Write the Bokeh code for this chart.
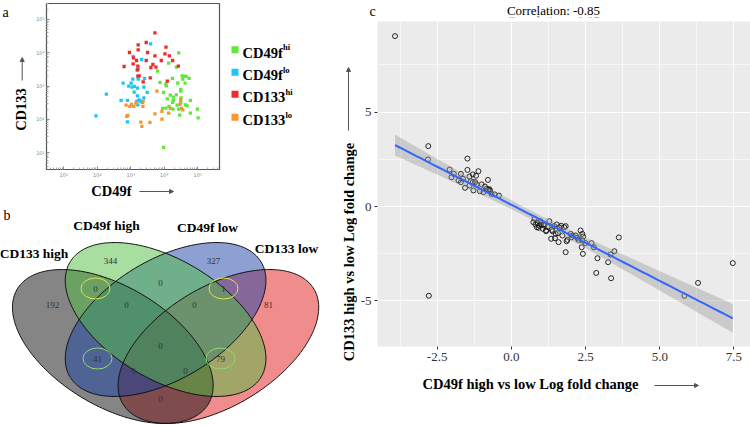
import numpy as np
from bokeh.plotting import figure
from bokeh.layouts import row, column
from bokeh.models import Range1d, Label, Arrow, NormalHead, FixedTicker, NumeralTickFormatter, BoxAnnotation
from bokeh.core.properties import value
from bokeh.embed import file_html
from bokeh.resources import INLINE

SERIF = "Liberation Serif"

# ---------------- Panel a data (log10 intensities) ----------------
hi49_x = [4.43, 4.13, 4.36, 3.80, 4.53, 4.59, 4.65, 4.55, 4.74, 4.24, 3.87, 4.05, 4.40, 4.62,
          4.06, 4.49, 4.49, 3.98, 4.18, 4.36, 4.27, 4.09, 4.78, 4.27, 4.50, 4.49, 4.25, 4.63,
          4.68, 4.38, 4.05, 4.26, 4.43, 3.95, 4.14, 4.99, 4.46, 4.78, 5.01, 3.98]
hi49_y = [4.00, 3.69, 3.57, 3.45, 3.31, 3.29, 3.29, 3.21, 3.23, 3.23, 3.11, 3.07, 3.09, 3.09,
          3.01, 2.90, 2.85, 2.81, 2.73, 2.74, 2.67, 2.62, 2.57, 2.57, 2.65, 2.51, 2.51, 2.44,
          2.41, 2.43, 2.34, 2.31, 2.31, 2.33, 2.39, 2.31, 2.13, 2.19, 2.05, 1.16]
lo49_x = [3.59, 3.07, 3.32, 3.22, 3.19, 3.06, 3.41, 3.22, 3.01, 2.77, 2.94, 3.11, 3.04, 3.20,
          3.39, 3.10, 2.27, 3.49, 3.20, 3.39, 2.71, 2.90, 3.25, 3.29, 3.34, 3.21, 1.96, 2.90, 3.18]
lo49_y = [4.27, 3.89, 3.80, 3.51, 3.49, 3.21, 3.23, 3.21, 3.09, 3.09, 3.00, 2.99, 2.97, 2.94,
          2.97, 2.82, 2.76, 2.81, 2.71, 2.65, 2.57, 2.57, 2.59, 2.55, 2.51, 2.44, 2.11, 1.93, 2.55]
hi133_x = [3.72, 3.46, 3.22, 4.05, 2.96, 3.50, 3.22, 4.15, 4.02, 4.25, 3.91, 3.72, 3.46, 3.17,
           3.08, 3.07, 3.66, 3.60, 3.21, 2.80, 3.75, 4.42, 3.20, 3.58, 3.21, 3.25, 4.09, 3.37]
hi133_y = [4.60, 4.31, 4.24, 4.17, 4.01, 4.01, 4.09, 3.91, 3.97, 3.77, 3.77, 3.91, 3.77, 3.77,
           3.85, 3.67, 3.65, 3.56, 3.60, 3.59, 3.57, 3.60, 3.49, 3.25, 3.30, 3.31, 3.15, 3.13]
lo133_x = [3.78, 2.86, 2.97, 3.15, 3.02, 3.37, 3.36, 3.09, 3.72, 3.93, 4.49, 4.47, 4.51, 4.55,
           4.18, 2.91, 2.88, 3.30, 3.33, 3.93, 4.13, 3.57]
lo133_y = [2.85, 2.43, 2.39, 2.49, 2.45, 2.55, 2.39, 2.39, 2.17, 2.24, 2.59, 2.45, 2.33, 2.29,
           2.33, 2.12, 2.09, 1.92, 1.79, 2.01, 2.19, 1.91]
pop_names = ["CD49f", "CD49f", "CD133", "CD133"]
pop_sups = ["hi", "lo", "hi", "lo"]
pop_colors = ["#5fe83a", "#1ec6f2", "#ee2b2b", "#f7962e"]
log_ticks = [1, 2, 3, 4, 5]
sup_digits = {1: "\u00b9", 2: "\u00b2", 3: "\u00b3", 4: "\u2074", 5: "\u2075"}

# ---------------- Panel b data ----------------
venn_sets = ["CD133 high", "CD49f high", "CD49f low", "CD133 low"]
venn_counts = [344, 327, 192, 81, 0, 0, 1, 0, 0, 0, 41, 79, 0, 0, 0]
venn_circled = [4, 6, 10, 11]

# ---------------- Panel c data ----------------
fc_x = [-3.92, -2.80, -2.81, -2.78, -2.08, -2.02, -1.94, -1.70, -1.78, -1.70, -1.56, -1.48,
        -1.48, -1.41, -1.37, -1.30, -1.19, -1.11, -1.41, -1.30, -1.17, -1.00, -0.79, -0.89,
        -0.74, -0.78, -0.72, -1.28, -1.06, -0.94, -0.67, -0.56, -0.42, -1.63, -1.22, -0.83,
        0.78, 0.74, 0.81, 0.89, 0.86, 0.94, 0.98, 1.06, 1.11, 1.28, 1.17, 1.36, 1.44, 1.53,
        1.61, 1.68, 1.78, 1.83, 1.49, 1.57, 1.72, 2.00, 2.06, 2.22, 2.33, 2.39, 2.42, 2.39,
        2.50, 2.70, 2.78, 3.47, 3.34, 3.26, 2.90, 2.86, 3.36, 3.62, 1.34, 1.47, 1.59, 1.86,
        1.89, 2.37, 2.41, 1.83, 1.39, 1.22, 1.08, 1.17, 2.03, 2.17, 2.26, 0.92, 1.00, 1.63,
        5.83, 6.29, 7.46]
fc_y = [9.03, 3.20, 2.49, -4.73, 1.96, 1.55, 1.73, 1.73, 1.38, 1.29, 0.99, 2.54,
        1.94, 1.59, 1.34, 1.70, 1.63, 1.87, 1.11, 1.29, 1.17, 1.17, 1.41, 1.06,
        0.92, 0.88, 0.85, 0.85, 0.81, 0.76, 0.67, 0.64, 0.58, 1.47, 1.29, 0.94,
        -0.65, -0.83, -0.95, -0.88, -1.10, -1.01, -0.78, -1.18, -1.01, -0.78, -1.27, -1.24, -1.04, -0.95,
        -1.10, -1.02, -1.10, -1.04, -1.45, -1.41, -1.54, -1.45, -1.54, -1.66, -1.27, -1.45, -1.59, -1.80,
        -1.94, -1.94, -2.16, -2.37, -2.54, -2.95, -2.74, -3.52, -3.80, -1.64, -1.71, -1.68, -1.89, -1.84,
        -1.77, -2.16, -2.51, -2.42, -1.31, -1.08, -0.95, -1.31, -1.63, -1.54, -1.77, -1.13, -0.95, -1.13,
        -4.73, -4.05, -3.00]
x_major = [-2.5, 0.0, 2.5, 5.0, 7.5]
x_minor = [-3.75, -1.25, 1.25, 3.75, 6.25]
y_major = [-5, 0, 5]
y_minor = [-2.5, 2.5, 7.5]
corr_text = "Correlation: -0.85"
x_title = "CD49f high vs low Log fold change"
y_title = "CD133 high vs low Log fold change"


def add_label(p, x, y, text, size, bold=False, angle=0.0, align="left", baseline="middle",
              color="black", font=SERIF):
    p.add_layout(Label(x=x, y=y, text=text, text_font=font, text_font_size=f"{size}px",
                       text_font_style="bold" if bold else "normal", angle=angle,
                       text_align=align, text_baseline=baseline, text_color=color))


def add_arrow(p, x0, y0, x1, y1):
    p.add_layout(Arrow(end=NormalHead(size=4, fill_color="#555555", line_color="#555555"),
                       x_start=x0, y_start=y0, x_end=x1, y_end=y1,
                       line_color="#555555", line_width=1))


def blank(w, h, x0, x1, y0, y1):
    # a figure whose data units equal page pixels (y grows downward)
    f = figure(width=w, height=h, x_range=Range1d(x0, x1), y_range=Range1d(y1, y0),
               output_backend="svg", toolbar_location=None, x_axis_location=None,
               y_axis_location=None, min_border=0)
    f.grid.visible = False
    f.outline_line_color = None
    return f


# ================= Panel a =================
def lx(X):
    return 1 + (X - 63.3) / 33.5


def ly(Y):
    return 1 + (152.3 - Y) / 33.33


pa = figure(width=191, height=182, x_axis_type="log", y_axis_type="log",
            x_range=Range1d(10 ** lx(46), 10 ** lx(219)), y_range=Range1d(10 ** ly(169), 10 ** ly(3)),
            output_backend="svg", toolbar_location=None,
            min_border_left=16, min_border_right=2, min_border_top=3, min_border_bottom=13)
pa.grid.visible = False
pa.outline_line_color = "#555555"
pa.outline_line_width = 1.2
tick_vals = [10.0 ** k for k in log_ticks]
minor_vals = [m * 10.0 ** k for k in range(0, 6) for m in range(2, 10)]
for ax in (pa.xaxis[0], pa.yaxis[0]):
    ax.ticker = FixedTicker(ticks=tick_vals, minor_ticks=minor_vals)
    ax.major_label_overrides = {10.0 ** k: "10" + sup_digits[k] for k in log_ticks}
    ax.axis_line_color = None
    ax.major_tick_in = 3
    ax.major_tick_out = 0
    ax.minor_tick_in = 2
    ax.minor_tick_out = 0
    ax.major_tick_line_color = "#888888"
    ax.minor_tick_line_color = "#aaaaaa"
    ax.major_label_text_font_size = "5px"
    ax.major_label_text_color = "#888888"
    ax.major_label_text_font = "DejaVu Sans"
    ax.major_label_standoff = 2

groups = [(hi49_x, hi49_y), (lo49_x, lo49_y), (hi133_x, hi133_y), (lo133_x, lo133_y)]
for (gx, gy), col in zip(groups, pop_colors):
    pa.scatter(10 ** np.array(gx), 10 ** np.array(gy), marker="square", size=3.3,
               fill_color=col, line_color=None)

# left strip of panel a: letter + y title
fa = blank(30, 182, 0, 30, 0, 182)
add_label(fa, 2, 12, "a", 14)
add_label(fa, 20, 109, "CD133", 14.5, bold=True, angle=np.pi / 2, align="center")
add_arrow(fa, 21.7, 80, 21.7, 57)

# legend strip of panel a
fl = blank(117, 182, 221, 338, 0, 182)
row_y = [49.3, 71.7, 93.7, 116.7]
sup_off = {"CD49f": 40.5, "CD133": 43.0}
fl.scatter(x=[234.5] * 4, y=row_y, marker="square", size=7, fill_color=pop_colors, line_color=None)
for name, sup, ry in zip(pop_names, pop_sups, row_y):
    add_label(fl, 242, ry + 3, name, 14.5, bold=True, baseline="alphabetic")
    add_label(fl, 242 + sup_off[name], ry - 2.6, sup, 8.5, bold=True, baseline="alphabetic")

# ================= Panel b (Venn) =================
def U(X):
    return (X + 10.9) / 352.0


def V(Y):
    return (472.9 - Y) / 270.0


pb = figure(width=338, height=244, x_range=Range1d(U(0), U(338)), y_range=Range1d(V(426), V(182)),
            output_backend="svg", toolbar_location=None, x_axis_location=None,
            y_axis_location=None, min_border=0)
pb.grid.visible = False
pb.outline_line_color = None

venn_cx = [0.35, 0.5, 0.5, 0.65]
venn_cy = [0.47, 0.57, 0.57, 0.47]
venn_rot = [-45, -45, 45, 45]
venn_fill = ["#0b0b0b", "#51bd41", "#1941a5", "#e11919"]
t = np.linspace(0, 2 * np.pi, 240)
ell = []
for i in range(4):
    th = np.radians(venn_rot[i])
    ex = venn_cx[i] + 0.35 * np.cos(t) * np.cos(th) - 0.2 * np.sin(t) * np.sin(th)
    ey = venn_cy[i] + 0.35 * np.cos(t) * np.sin(th) + 0.2 * np.sin(t) * np.cos(th)
    ell.append((ex, ey))
for i in [3, 0, 2, 1]:
    pb.patch(ell[i][0], ell[i][1], fill_color=venn_fill[i], fill_alpha=0.5, line_color=None)
for i in range(4):
    pb.patch(ell[i][0], ell[i][1], fill_color=None, line_color="#111111", line_width=1)

venn_pos = [(110, 260), (213, 260), (52, 304), (268, 304), (95, 288), (160, 282), (223, 288),
            (126, 304), (194, 304), (160, 345), (97, 358), (220, 358), (133, 370), (185, 370),
            (160, 398)]
circ_colors = ["#e2e24a", "#e2e24a", "#8cdc6e", "#8cdc6e"]
for k, cc in zip(venn_circled, circ_colors):
    X, Y = venn_pos[k]
    pb.ellipse(x=[U(X)], y=[V(Y)], width=29 / 352, height=21 / 270, fill_color=None,
               line_color=cc, line_width=1)
pb.text(x=[U(p[0]) for p in venn_pos], y=[V(p[1]) for p in venn_pos],
        text=[str(c) for c in venn_counts], text_font=value(SERIF),
        text_font_size=value("9px"), text_color="#333333", text_align="center",
        text_baseline="middle")

add_label(pb, U(3), V(215), "b", 14)
venn_lab_pos = [(33.5, 253), (106, 225), (207, 227), (286, 248)]
for name, (X, Y) in zip(venn_sets, venn_lab_pos):
    add_label(pb, U(X), V(Y), name, 13.5, bold=True, align="center")
# x title of panel a sits in this strip
add_label(pb, U(111), V(190), "CD49f", 14.5, bold=True, align="center")
add_arrow(pb, U(139), V(191), U(173), V(191))

# ================= Panel c =================
def cx(X):
    return (X - 508.3) / 30.0


def cy(Y):
    return (206.0 - Y) / 18.87


pc = figure(width=393, height=345, x_range=Range1d(cx(373), cx(750)), y_range=Range1d(cy(346), cy(21)),
            output_backend="svg", toolbar_location=None, background_fill_color="#EBEBEB",
            min_border_left=16, min_border_right=0, min_border_top=0, min_border_bottom=20)
pc.outline_line_color = None
pc.xaxis.ticker = FixedTicker(ticks=x_major, minor_ticks=x_minor)
pc.yaxis.ticker = FixedTicker(ticks=y_major, minor_ticks=y_minor)
pc.xgrid.ticker = FixedTicker(ticks=x_major, minor_ticks=x_minor)
pc.ygrid.ticker = FixedTicker(ticks=y_major, minor_ticks=y_minor)
for g in (pc.xgrid[0], pc.ygrid[0]):
    g.grid_line_color = "white"
    g.grid_line_width = 1.1
    g.minor_grid_line_color = "white"
    g.minor_grid_line_width = 0.6
pc.xaxis.formatter = NumeralTickFormatter(format="0.0")
pc.yaxis.major_label_overrides = {-5: "-5", 0: "0", 5: "5"}
for ax in (pc.xaxis[0], pc.yaxis[0]):
    ax.axis_line_color = None
    ax.major_tick_in = 0
    ax.major_tick_out = 3
    ax.major_tick_line_color = "#333333"
    ax.minor_tick_line_color = None
    ax.major_label_text_font = SERIF
    ax.major_label_text_font_size = "13px"
    ax.major_label_text_color = "#333333"
    ax.major_label_standoff = 2

xs = np.array(fc_x)
ys = np.array(fc_y)
n = len(xs)
slope, intercept = np.polyfit(xs, ys, 1)
xg = np.linspace(xs.min(), xs.max(), 80)
yhat = intercept + slope * xg
resid = ys - (intercept + slope * xs)
s = np.sqrt(np.sum(resid ** 2) / (n - 2))
se = s * np.sqrt(1.0 / n + (xg - xs.mean()) ** 2 / np.sum((xs - xs.mean()) ** 2))
tcrit = 1.986

pc.scatter(xs, ys, marker="circle", size=5, fill_color=None, line_color="#111111", line_width=0.9)
pc.varea(x=xg, y1=yhat - tcrit * se, y2=yhat + tcrit * se, fill_color="#999999", fill_alpha=0.4)
pc.line(xg, yhat, line_color="#3366FF", line_width=2)

# strips around panel c
ft = blank(393, 21, 357, 750, 0, 21)
add_label(ft, 553, 9.5, corr_text, 13, align="center", baseline="alphabetic")
add_label(ft, 553, 19.8, corr_text, 13, align="center", baseline="alphabetic", color="#666666")
ft.add_layout(BoxAnnotation(top=17.0, bottom=21.5, fill_color="white", fill_alpha=1.0, line_color=None))
add_label(ft, 369, 11, "c", 14)

fb = blank(393, 60, 357, 750, 366, 426)
add_label(fb, 530, 383, x_title, 14.5, bold=True, align="center")
add_arrow(fb, 654, 385, 698, 385)

fy = blank(19, 426, 338, 357, 0, 426)
add_label(fy, 348, 251.5, y_title, 14.5, bold=True, angle=np.pi / 2, align="center")
add_arrow(fy, 348, 130, 348, 67)

left_top = row(column(fa), column(pa), column(fl))
left = column(left_top, row(pb))
right_col = column(row(ft), row(pc), row(fb))
layout = row(left, column(fy), right_col)
open("out.html", "w").write(file_html(layout, INLINE))
